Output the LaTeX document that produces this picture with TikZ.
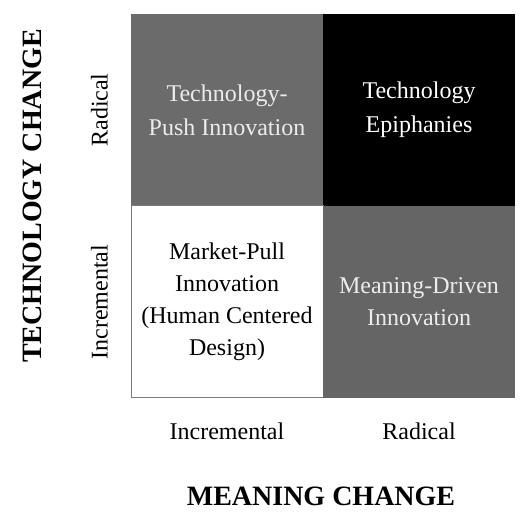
\documentclass[tikz,border=0pt]{standalone}
\usepackage{fontspec}
\setmainfont{Liberation Serif}
\usepackage{xcolor}
\usetikzlibrary{positioning}

\definecolor{pushgray}{HTML}{6B6B6B}
\definecolor{meangray}{HTML}{656565}
\definecolor{lighttext}{HTML}{ECECEC}
\definecolor{framegray}{HTML}{7A7A7A}

\begin{document}
\begin{tikzpicture}[x=1pt, y=1pt, node distance=0pt, every node/.style={font=\fontsize{24}{32}\selectfont, align=center, inner sep=0pt}, cell/.style={minimum width=192pt, minimum height=192pt, outer sep=0pt}, axis/.style={font=\fontsize{28}{32}\selectfont\bfseries}]
    \useasboundingbox (0,0) rectangle (520,512);

    % Quadrants
    \node[cell, fill=pushgray, text=lighttext] (c11) at (227,402) {Technology-\\[2pt]Push Innovation};
    \node[cell, fill=black, text=white, right=of c11] (c12) {Technology\\[2pt]Epiphanies};
    \node[cell, fill=white, draw=framegray, line width=1pt, below=of c11] (c21) {Market-Pull\\Innovation\\(Human Centered\\Design)};
    \node[cell, fill=meangray, text=lighttext, right=of c21] (c22) {Meaning-Driven\\Innovation};

    % Meaning axis
    \node[below=25pt of c21] (minc) {Incremental};
    \node[below=25pt of c22] (mrad) {Radical};
    \node[axis, anchor=base] (mlbl) at (321,6) {MEANING CHANGE};

    % Technology axis
    \node[rotate=90, anchor=south] (trad) at (108,402) {Radical};
    \node[rotate=90, anchor=south] (tinc) at (108,210) {Incremental};
    \node[axis, rotate=90, anchor=south] (tlbl) at (42,316) {TECHNOLOGY CHANGE};
\end{tikzpicture}
\end{document}
